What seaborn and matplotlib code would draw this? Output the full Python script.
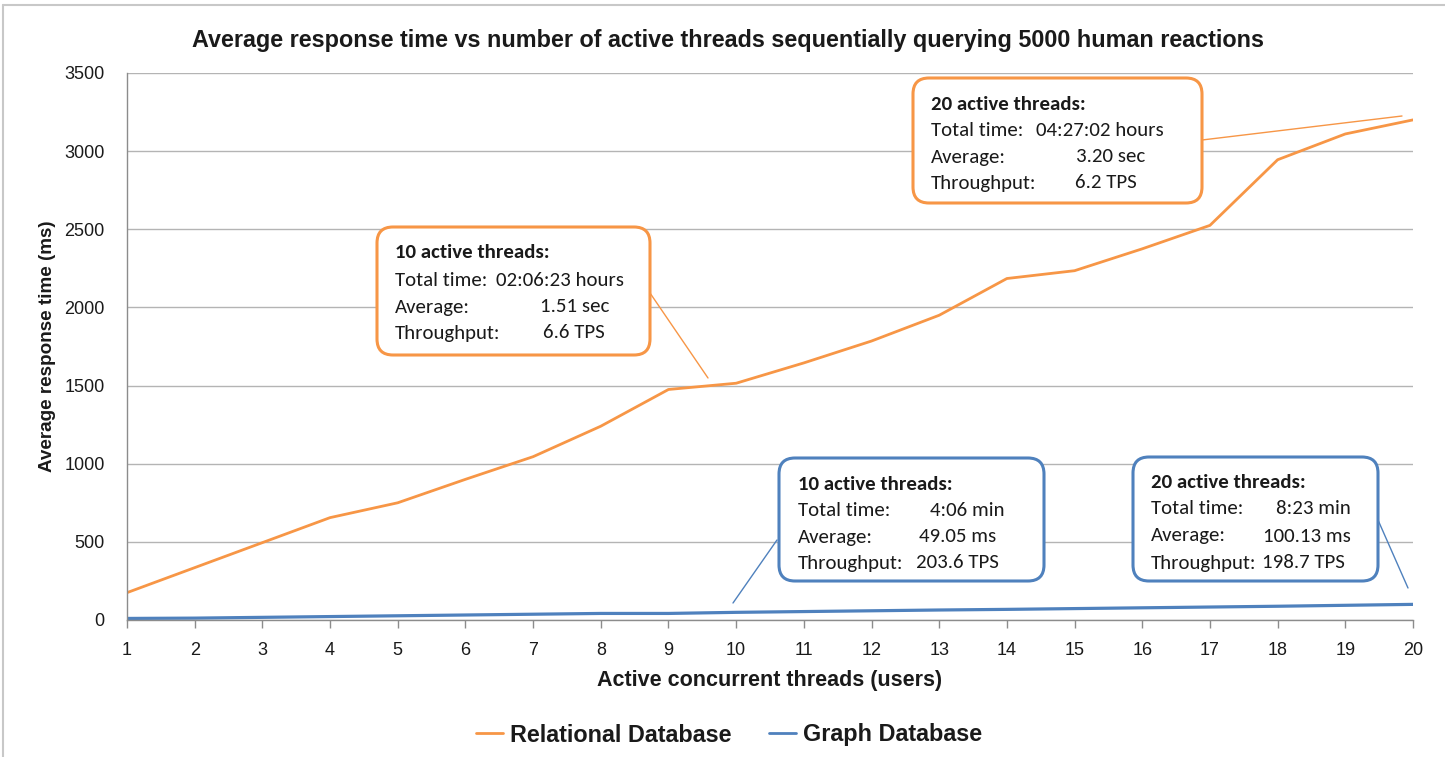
import numpy as np
import pandas as pd
import matplotlib
matplotlib.use("Agg")
import matplotlib.pyplot as plt
import matplotlib.transforms as mtransforms
from matplotlib.patches import FancyBboxPatch
from matplotlib.lines import Line2D
import seaborn as sns

# ---------------- data ----------------
threads = list(range(1, 21))
relational_ms = [175, 335, 495, 655, 750, 900, 1045, 1240, 1475, 1515,
                 1645, 1785, 1950, 2185, 2235, 2375, 2525, 2945, 3110, 3200]
graph_ms = [10, 12, 17, 22, 27, 32, 37, 42, 42, 49,
            54, 59, 64, 68, 73, 78, 83, 88, 94, 100]
series_names = ["Relational Database", "Graph Database"]
y_ticks = [0, 500, 1000, 1500, 2000, 2500, 3000, 3500]

title = "Average response time vs number of active threads sequentially querying 5000 human reactions"
x_label = "Active concurrent threads (users)"
y_label = "Average response time (ms)"

box_titles = ["10 active threads:", "20 active threads:", "10 active threads:", "20 active threads:"]
box_labels = ["Total time:", "Average:", "Throughput:"]
box_values = [
    ["02:06:23 hours", "1.51 sec", "6.6 TPS"],
    ["04:27:02 hours", "3.20 sec", "6.2 TPS"],
    ["4:06 min", "49.05 ms", "203.6 TPS"],
    ["8:23 min", "100.13 ms", "198.7 TPS"],
]

# ---------------- style ----------------
ORANGE = "#F79646"
BLUE = "#4F81BD"
TXT = "#1a1a1a"
sns.set_theme(style="white")
plt.rcParams["font.family"] = ["Liberation Sans", "DejaVu Sans"]

W, H = 1445, 757
fig = plt.figure(figsize=(W / 100, H / 100), dpi=100)
ax = fig.add_axes([127 / W, 1 - 620 / H, (1413 - 127) / W, (620 - 73) / H])

df = pd.DataFrame({
    "threads": threads * 2,
    "ms": relational_ms + graph_ms,
    "series": [series_names[0]] * len(threads) + [series_names[1]] * len(threads),
})
sns.lineplot(data=df, x="threads", y="ms", hue="series",
             palette={series_names[0]: ORANGE, series_names[1]: BLUE},
             ax=ax, legend=False, linewidth=2.0)
ax.lines[1].set_linewidth(2.3)

ax.set_xlim(1, 20)
ax.set_ylim(0, 3500)
ax.set_xticks(threads)
ax.set_yticks(y_ticks)
ax.tick_params(axis="both", labelsize=13, colors="#8C8C8C", labelcolor=TXT,
               direction="out", length=6, width=1)
ax.tick_params(axis="y", pad=16, length=0)
ax.tick_params(axis="x", pad=10, bottom=True)
ax.grid(axis="y", color="#B4B4B4", linewidth=1)
ax.grid(axis="x", visible=False)
for s in ["top", "right"]:
    ax.spines[s].set_visible(False)
for s in ["left", "bottom"]:
    ax.spines[s].set_color("#8C8C8C")
    ax.spines[s].set_linewidth(1)
ax.set_xlabel(x_label, fontsize=15.5, fontweight="bold", color=TXT, labelpad=8)
ax.set_ylabel(y_label, fontsize=13.6, fontweight="bold", color=TXT, labelpad=6)

fig.text(727.5 / W, 1 - 40 / H, title, ha="center", va="center",
         fontsize=16.8, fontweight="bold", color=TXT)

# legend
handles = [Line2D([], [], color=ORANGE, linewidth=2),
           Line2D([], [], color=BLUE, linewidth=2)]
leg = fig.legend(handles, series_names, loc="center", bbox_to_anchor=(729 / W, 1 - 735 / H),
                 ncol=2, frameon=False, handlelength=1.15, handletextpad=0.3,
                 columnspacing=1.6, prop={"size": 16.8, "weight": "bold"})
for t in leg.get_texts():
    t.set_color(TXT)

# outer frame (left & top edges)
fig.add_artist(Line2D([3 / W, 3 / W], [0, 1 - 5 / H], transform=fig.transFigure, color="#C8C8C8", linewidth=1.5))
fig.add_artist(Line2D([3 / W, 1], [1 - 5 / H, 1 - 5 / H], transform=fig.transFigure, color="#C8C8C8", linewidth=1.5))

# pixel (top-left origin) transform
px = mtransforms.Affine2D().scale(1 / 100, -1 / 100).translate(0, H / 100) + fig.dpi_scale_trans

box_font = ["Carlito", "Lato", "DejaVu Sans"]
FS = 15.0
boxes = [
    # (x0, y0, x1, y1), edge color, label x, value xs, text ys, leader (from, to)
    ((377, 227, 650, 355), ORANGE, 395, [496, 540, 543], [253, 281, 307, 333], ((650, 293), (708, 378))),
    ((913, 78, 1202, 203), ORANGE, 931, [1036, 1076, 1075], [105, 131, 157, 183], ((1202, 140), (1402, 116))),
    ((779, 458, 1044, 581), BLUE, 798, [930, 919, 916], [485, 511, 537, 563], ((777, 540), (733, 603))),
    ((1133, 457, 1378, 581), BLUE, 1151, [1276, 1263, 1262], [483, 509, 536, 563], ((1378, 520), (1408, 588))),
]
for i, ((x0, y0, x1, y1), col, lx, vxs, tys, (p0, p1)) in enumerate(boxes):
    fig.add_artist(Line2D([p0[0], p1[0]], [p0[1], p1[1]], transform=px, color=col, linewidth=1.0))
    r = 16
    patch = FancyBboxPatch((x0 + r, y0 + r), (x1 - x0) - 2 * r, (y1 - y0) - 2 * r,
                           boxstyle=f"round,pad={r},rounding_size={r}",
                           transform=px, facecolor="white", edgecolor=col, linewidth=2.2)
    fig.add_artist(patch)
    fig.text(lx, tys[0], box_titles[i], transform=px, ha="left", va="center",
             fontsize=FS, fontweight="bold", family=box_font, color=TXT)
    for j in range(3):
        fig.text(lx, tys[j + 1], box_labels[j], transform=px, ha="left", va="center",
                 fontsize=FS, family=box_font, color=TXT)
        fig.text(vxs[j], tys[j + 1], box_values[i][j], transform=px, ha="left", va="center",
                 fontsize=FS, family=box_font, color=TXT)

fig.savefig("out.png", dpi=100, facecolor="white")
